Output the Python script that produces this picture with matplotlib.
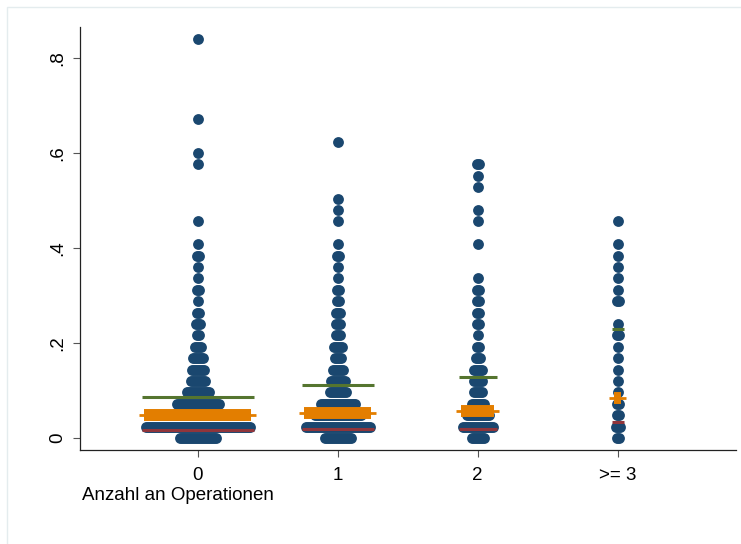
import numpy as np
import matplotlib.pyplot as plt
from matplotlib.patches import Rectangle

plt.rcParams['font.family'] = ['Liberation Sans', 'DejaVu Sans']

# Gruppen (Anzahl an Operationen)
groups = ['0', '1', '2', '>= 3']

# gerundete Werte je Gruppe und Anzahl Beobachtungen pro Wert
g0_y = [0, .024, .048, .072, .096, .12, .144, .168, .192, .216, .24, .264,
        .288, .312, .336, .36, .384, .408, .456, .576, .6, .672, .84]
g0_n = [19, 53, 46, 22, 12, 8, 7, 6, 4, 2, 3, 2, 1, 2, 1, 1, 2, 1, 1, 1, 1, 1, 1]

g1_y = [0, .024, .048, .072, .096, .12, .144, .168, .192, .216, .24, .264,
        .288, .312, .336, .36, .384, .408, .456, .48, .504, .624]
g1_n = [14, 33, 24, 18, 9, 8, 6, 4, 5, 3, 3, 3, 2, 2, 1, 1, 2, 1, 1, 1, 1, 1]

g2_y = [0, .024, .048, .072, .096, .12, .144, .168, .192, .216, .24, .264,
        .288, .312, .336, .408, .456, .48, .528, .552, .576]
g2_n = [7, 16, 12, 7, 5, 5, 5, 3, 2, 1, 2, 2, 2, 2, 1, 1, 1, 1, 1, 1, 2]

g3_y = [0, .024, .048, .072, .096, .12, .144, .168, .192, .216, .24, .288,
        .312, .336, .36, .384, .408, .456]
g3_n = [2, 3, 2, 2, 1, 1, 1, 1, 1, 2, 1, 2, 1, 1, 1, 1, 1, 1]

# Kennwerte je Gruppe
means = [0.048, 0.053, 0.057, 0.085]
medians = [0.017, 0.018, 0.018, 0.034]
upper = [0.086, 0.111, 0.128, 0.229]

navy = '#1A476F'
maroon = '#90353B'
green = '#55752F'
orange = '#E37E00'

fig = plt.figure(figsize=(7.41, 5.44), dpi=100)
ax = fig.add_axes([80 / 741, 1 - 450 / 544, 656 / 741, 423 / 544])

px = 1 / 140            # ein Pixel in x-Einheiten
step = 2 * px           # Versatz beim Stapeln

data = [(g0_y, g0_n), (g1_y, g1_n), (g2_y, g2_n), (g3_y, g3_n)]
for i, (ys, ns) in enumerate(data):
    xs, yy = [], []
    for y, n in zip(ys, ns):
        off = (np.arange(n) - (n - 1) / 2) * step
        xs.extend(i + off)
        yy.extend([y] * n)
    ax.plot(xs, yy, 'o', ms=7.8, color=navy, mec='none', zorder=2)

    half = (max(ns) - 1) * step / 2
    ax.plot([i - half - 4 * px, i + half + 4 * px], [upper[i]] * 2,
            color=green, lw=2.2, solid_capstyle='butt', zorder=3)
    ax.plot([i - half - 4 * px, i + half + 4 * px], [medians[i]] * 2,
            color=maroon, lw=2.2, solid_capstyle='butt', zorder=3)
    ax.plot([i - half - 6.5 * px, i + half + 6.5 * px], [means[i]] * 2,
            color=orange, lw=2, solid_capstyle='butt', zorder=4)
    ax.plot([i - half - 1.5 * px, i + half + 1.5 * px], [means[i]] * 2,
            color=orange, lw=8.6, solid_capstyle='butt', zorder=4)

ax.set_xlim(-0.841, 3.845)
ax.set_ylim(-0.0253, 0.865)
ax.set_xticks(range(4))
ax.set_xticklabels(groups)
ax.set_yticks([0, .2, .4, .6, .8])
ax.set_yticklabels(['0', '.2', '.4', '.6', '.8'], rotation=90, va='center')
ax.tick_params(labelsize=13.5, length=5, width=0.8, color='#555555', pad=5)
ax.tick_params(axis='x', pad=7)

for s in ['top', 'right']:
    ax.spines[s].set_visible(False)
for s in ['left', 'bottom']:
    ax.spines[s].set_linewidth(0.9)
    ax.spines[s].set_color('#222222')

fig.text(82 / 741, 1 - 495 / 544, 'Anzahl an Operationen', fontsize=13.5,
         ha='left', va='center')

# heller Rahmen um die Grafik
fig.patches.append(Rectangle((7 / 741, -0.05), 1.2, 1 - 7 / 544 + 0.05,
                             transform=fig.transFigure, fill=False,
                             edgecolor='#E4ECEE', lw=1))

fig.savefig('out.png', dpi=100)
